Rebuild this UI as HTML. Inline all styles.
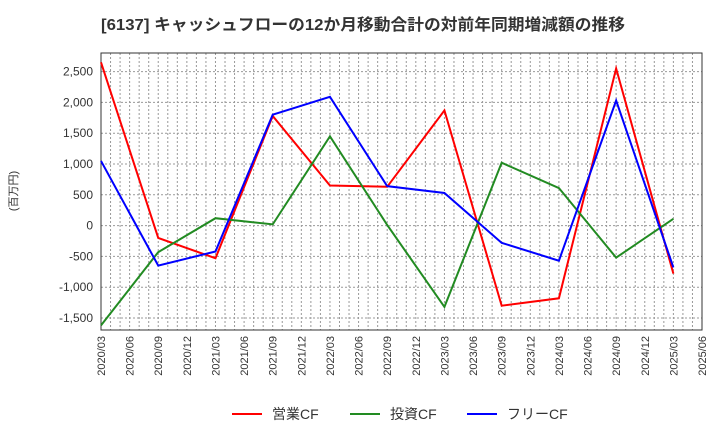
<!DOCTYPE html>
<html><head><meta charset="utf-8"><style>
body{margin:0;background:#fff;font-family:"Liberation Sans","Noto Sans CJK JP",sans-serif}
</style></head><body>
<svg id="c" width="720" height="440" xmlns="http://www.w3.org/2000/svg" font-family="Liberation Sans, Noto Sans CJK JP, sans-serif">
<text x="101" y="30" font-size="16" font-weight="bold" fill="#333" textLength="524" lengthAdjust="spacingAndGlyphs">[6137]  キャッシュフローの12か月移動合計の対前年同期増減額の推移</text>
<text transform="translate(17,191) rotate(-90)" text-anchor="middle" font-size="11" fill="#333">(百万円)</text>
<g id="grid"></g><g id="axes"></g><g id="series"></g><g id="legend"></g>
</svg>
<script>
const xLabels=["2020/03","2020/06","2020/09","2020/12","2021/03","2021/06","2021/09","2021/12","2022/03","2022/06","2022/09","2022/12","2023/03","2023/06","2023/09","2023/12","2024/03","2024/06","2024/09","2024/12","2025/03","2025/06"];
const yTicks=[-1500,-1000,-500,0,500,1000,1500,2000,2500];
const pointQuarters=[0,2,4,6,8,10,12,14,16,18,20];
const operatingCF=[2650,-200,-530,1780,650,630,1870,-1300,-1180,2550,-780];
const investingCF=[-1620,-430,120,20,1450,10,-1320,1020,610,-520,110];
const freeCF=[1050,-650,-420,1800,2090,640,530,-280,-570,2030,-680];
const L=101,R=702,T=53,B=330;
const xq=q=>L+(R-L)*q/21;
const y=v=>225.6-v*30.8/500;
const NS="http://www.w3.org/2000/svg";
function mk(p,t,a){const e=document.createElementNS(NS,t);for(const k in a)e.setAttribute(k,a[k]);p.appendChild(e);return e;}
const g=document.getElementById('grid'),ax=document.getElementById('axes'),s=document.getElementById('series'),lg=document.getElementById('legend');
for(let m=1;m<63;m++){const x=L+(R-L)*m/63;
const l=mk(g,'line',{x1:x,x2:x,y1:T,y2:B,stroke:'#999','stroke-dasharray':'2,2','stroke-width':1});

}
yTicks.forEach(v=>{const l=mk(g,'line',{x1:L,x2:R,y1:y(v),y2:y(v),stroke:'#999','stroke-dasharray':'2,2'});


const t=mk(ax,'text',{x:93,y:y(v)+4,'text-anchor':'end','font-size':12,fill:'#333'});t.textContent=v.toLocaleString('en-US');

});
const fr=mk(ax,'rect',{x:L,y:T,width:R-L,height:B-T,fill:'none',stroke:'#333'});


xLabels.forEach((lab,i)=>{const x=xq(i);const t=mk(ax,'text',{transform:`translate(${x+4},${B+6}) rotate(-90)`,'text-anchor':'end','font-size':11,fill:'#333'});t.textContent=lab;

});
const series=[["operating-cf-line",operatingCF,"#f00","営業CF"],["investing-cf-line",investingCF,"#228b22","投資CF"],["free-cf-line",freeCF,"#00f","フリーCF"]];
series.forEach(([n,d,c])=>{const p=mk(s,'polyline',{points:d.map((v,i)=>xq(pointQuarters[i])+','+y(v)).join(' '),fill:'none',stroke:c,'stroke-width':2});

});
const lx=[232,350,467];
series.forEach(([n,d,c,lab],i)=>{const l=mk(lg,'line',{x1:lx[i],x2:lx[i]+30,y1:414,y2:414,stroke:c,'stroke-width':2});


const t=mk(lg,'text',{x:lx[i]+40,y:419,'font-size':14,fill:'#333'});t.textContent=lab;

});
</script>
</body></html>
